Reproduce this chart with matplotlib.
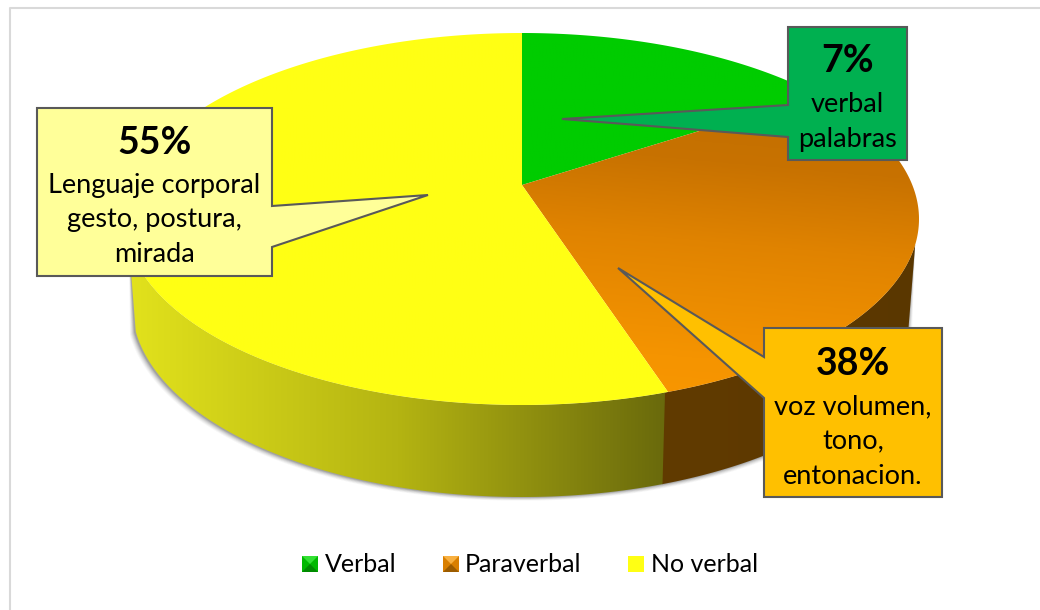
import numpy as np
import matplotlib
matplotlib.use("Agg")
import matplotlib.pyplot as plt
from matplotlib.patches import Polygon, Rectangle
from matplotlib.lines import Line2D
from matplotlib.colors import LinearSegmentedColormap

plt.rcParams['font.family'] = ['Lato', 'DejaVu Sans']

categories = ["Verbal", "Paraverbal", "No verbal"]
slice_shares = [15.7, 29.3, 55.0]   # angular shares as drawn in the picture
big_labels = ["7%", "38%", "55%"]
sub_labels = ["verbal\npalabras", "voz volumen,\ntono,\nentonacion.", "Lenguaje corporal\ngesto, postura,\nmirada"]

W, H = 1040, 610
fig = plt.figure(figsize=(W / 100, H / 100), dpi=100, facecolor="white")
ax = fig.add_axes([0, 0, 1, 1])
helper = fig.add_axes([0, 0, 0.01, 0.01])
helper.set_visible(False)

# ---- geometry of the 3-D disc (pixels)
CX, CY, RX, RY = 522, 219, 397, 186
BX, BY, BRX, BRY = 522, 305, 390, 192
A = 34 / 186  # perspective: the apex sits above the ellipse centre


def persp(theta_deg):
    """Polar angle of the flat pie -> position on the perspective ellipse."""
    t = np.radians(theta_deg)
    X, Y = np.cos(t), np.sin(t)
    d = 1 + A * Y
    return CX + RX * X * np.sqrt(1 - A ** 2) / d, CY - RY * (Y + A) / d


def gradient(patch, stops, extent, horizontal=True, angle=0.0, zorder=2):
    cmap = LinearSegmentedColormap.from_list("g", stops)
    n = 256
    xx, yy = np.meshgrid(np.linspace(0, 1, n), np.linspace(0, 1, n))
    field = xx if horizontal else (yy + angle * xx) / (1 + angle)
    im = ax.imshow(field, cmap=cmap, extent=extent, origin="upper", aspect="auto",
                   vmin=0, vmax=1, zorder=zorder, interpolation="bilinear")
    im.set_clip_path(patch)


wedges, _ = helper.pie(slice_shares, startangle=90, counterclock=False)
ax.set_xlim(0, W)
ax.set_ylim(H, 0)
ax.axis("off")

# frame: only the top and left edges are visible
ax.add_line(Line2D([9.5, 9.5, 1040], [610, 8, 8], color="#D9D9D9", lw=1.5, zorder=0))

# side wall: hull between the top ellipse and the lower ellipse
tt = np.radians(np.linspace(8, 172, 300))
tb = np.radians(np.linspace(8, 172, 300))
top_edge = np.c_[CX + RX * np.cos(tt), CY + RY * np.sin(tt)]
bot_edge = np.c_[BX + BRX * np.cos(tb), BY + BRY * np.sin(tb)]
wall_xy = np.vstack([top_edge, bot_edge[::-1]])

# soft shadow
for off, alpha in zip([6, 5, 4, 3, 2, 1], [0.04, 0.05, 0.07, 0.09, 0.12, 0.16]):
    sh = bot_edge + np.c_[np.sign(bot_edge[:, 0] - BX) * off * 0.8 - 1, np.full(len(bot_edge), off * 0.6)]
    ax.add_patch(Polygon(np.vstack([top_edge, sh[::-1]]), fc="#303030", ec="none", alpha=alpha, zorder=1))

split_x = persp(wedges[1].theta1)[0]

wall_brown = Polygon(wall_xy, closed=True, fc="none", ec="none")
ax.add_patch(wall_brown)
gradient(wall_brown, [(0, "#613B00"), (1, "#5A3700")], (split_x - 6, 925, 520, 200))

yw = np.vstack([top_edge[top_edge[:, 0] <= split_x], bot_edge[bot_edge[:, 0] <= split_x - 4][::-1]])
wall_yellow = Polygon(yw, closed=True, fc="none", ec="none")
ax.add_patch(wall_yellow)
gradient(wall_yellow, [(0, "#E2E21C"), (0.5, "#B4B412"), (1, "#69690C")], (128, split_x, 520, 200), zorder=3)

# top faces, built from the pie wedges
stops = [
    [(0, "#00CC00"), (1, "#00CC00")],
    [(0, "#C06E00"), (0.25, "#C87200"), (0.5, "#E08300"), (0.87, "#F59400"), (1, "#F89600")],
    [(0, "#FFFF14"), (1, "#FFFF14")],
]
apex = (CX, CY - RY * A)
for w, st in zip(wedges, stops):
    a = np.linspace(w.theta1, w.theta2, 240)
    x, y = persp(a)
    xy = np.vstack([[apex], np.c_[x, y]])
    p = Polygon(xy, closed=True, fc="none", ec="none")
    ax.add_patch(p)
    gradient(p, st, (120, 925, 420, 30), horizontal=False, angle=-0.18, zorder=4)

# callouts
EDGE = "#595959"
callouts = [
    ((788, 27, 907, 160), [(788, 105), (562, 119), (788, 137)], "left", "#00B050"),
    ((764, 328, 942, 497), [(764, 357), (618, 268), (764, 398)], "left", "#FFC000"),
    ((37, 108, 272, 276), [(272, 206), (428, 195), (272, 247)], "right", "#FFFF99"),
]
big_y = [61, 364, 143]
sub_y = [122, 442, 220]
for (box, ptr, side, col), big, sub, by, sy in zip(callouts, big_labels, sub_labels, big_y, sub_y):
    x0, y0, x1, y1 = box
    if side == "left":
        verts = [(x0, y0), (x1, y0), (x1, y1), (x0, y1), ptr[2], ptr[1], ptr[0]]
    else:
        verts = [(x0, y0), (x1, y0), ptr[0], ptr[1], ptr[2], (x1, y1), (x0, y1)]
    ax.add_patch(Polygon(verts, closed=True, fc=col, ec=EDGE, lw=1.5, zorder=6, joinstyle="miter"))
    cx = (x0 + x1) / 2
    ax.text(cx, by, big, ha="center", va="center", fontsize=27, fontweight="bold", color="black", zorder=7)
    ax.text(cx, sy, sub, ha="center", va="center", fontsize=19.5, color="black", zorder=7, linespacing=1.5)

# legend
leg_box_x = [302, 443, 628]
leg_text_x = [325, 465, 651]
leg_cols = [("#00B800", "#33E033", "#008A00"), ("#D97F00", "#F8B040", "#9C5C00"), ("#FFFF14", "#FFFF14", "#FFFF14")]
for name, bx, tx, (c, hi, lo) in zip(categories, leg_box_x, leg_text_x, leg_cols):
    s = 16
    y0 = 556
    ax.add_patch(Rectangle((bx, y0), s, s, fc=c, ec="none", zorder=5))
    ax.add_patch(Polygon([(bx, y0), (bx + s, y0), (bx + s / 2, y0 + s / 2)], fc=hi, ec="none", zorder=5))
    ax.add_patch(Polygon([(bx, y0 + s), (bx + s, y0 + s), (bx + s / 2, y0 + s / 2)], fc=lo, ec="none", zorder=5))
    ax.text(tx, 564, name, ha="left", va="center", fontsize=18, color="black", zorder=7)

fig.savefig("out.png", dpi=100, facecolor="white")
